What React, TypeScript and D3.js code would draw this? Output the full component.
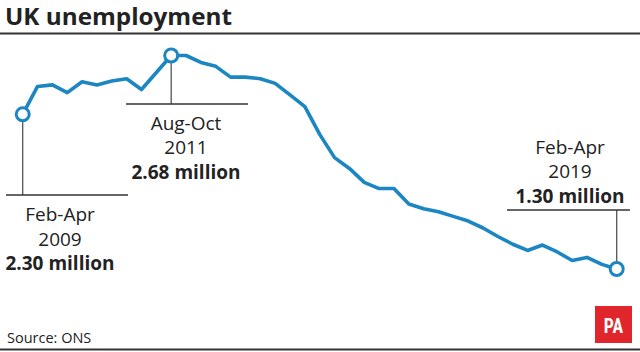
import React from "react";
import * as d3 from "d3";

const periods = [
  "Feb-Apr 2009", "May-Jul 2009", "Aug-Oct 2009", "Nov-Jan 2010",
  "Feb-Apr 2010", "May-Jul 2010", "Aug-Oct 2010", "Nov-Jan 2011",
  "Feb-Apr 2011", "May-Jul 2011", "Aug-Oct 2011", "Nov-Jan 2012",
  "Feb-Apr 2012", "May-Jul 2012", "Aug-Oct 2012", "Nov-Jan 2013",
  "Feb-Apr 2013", "May-Jul 2013", "Aug-Oct 2013", "Nov-Jan 2014",
  "Feb-Apr 2014", "May-Jul 2014", "Aug-Oct 2014", "Nov-Jan 2015",
  "Feb-Apr 2015", "May-Jul 2015", "Aug-Oct 2015", "Nov-Jan 2016",
  "Feb-Apr 2016", "May-Jul 2016", "Aug-Oct 2016", "Nov-Jan 2017",
  "Feb-Apr 2017", "May-Jul 2017", "Aug-Oct 2017", "Nov-Jan 2018",
  "Feb-Apr 2018", "May-Jul 2018", "Aug-Oct 2018", "Nov-Jan 2019",
  "Feb-Apr 2019",
];

// millions unemployed
const unemployed = [
  2.30, 2.48, 2.49, 2.44, 2.51, 2.49, 2.515, 2.53, 2.46, 2.57,
  2.68, 2.68, 2.635, 2.61, 2.54, 2.54, 2.53, 2.50, 2.425, 2.35,
  2.17, 2.02, 1.95, 1.86, 1.82, 1.82, 1.72, 1.69, 1.67, 1.64,
  1.61, 1.565, 1.51, 1.46, 1.42, 1.455, 1.41, 1.355, 1.375, 1.33,
  1.30,
];

const highlights = [
  { period: "Feb-Apr 2009", line1: "Feb-Apr", line2: "2009", value: "2.30 million" },
  { period: "Aug-Oct 2011", line1: "Aug-Oct", line2: "2011", value: "2.68 million" },
  { period: "Feb-Apr 2019", line1: "Feb-Apr", line2: "2019", value: "1.30 million" },
];

const W = 640;
const H = 352;
const FONT = "'Open Sans', 'Noto Sans', sans-serif";
const BLUE = "#1b86c2";
const INK = "#222";

const labelLayout = [
  { ruleY: 195, x1: 6, x2: 128, tx: 60, b1: 221 },
  { ruleY: 104, x1: 126, x2: 248, tx: 186, b1: 129.5 },
  { ruleY: 210, x1: 507, x2: 630, tx: 570, b1: 153.5 },
];

export default function App() {
  const x = d3.scalePoint<string>().domain(periods).range([22.7, 616.7]);
  const y = d3.scaleLinear().domain([1.3, 2.68]).range([269, 55.5]);
  const data = periods.map((p, i) => ({ p, v: unemployed[i] }));
  const line = d3
    .line<{ p: string; v: number }>()
    .x((d) => x(d.p) as number)
    .y((d) => y(d.v));

  const r = 6.5;

  return (
    <svg
      width={W}
      height={H}
      viewBox={`0 0 ${W} ${H}`}
      style={{ position: "absolute", left: 0, top: 0, background: "#fff" }}
      fontFamily={FONT}
    >
      <rect x={0} y={0} width={W} height={H} fill="#fff" />
      <text
        x={5}
        y={25.2}
        fontSize={23.5}
        fontWeight={700}
        fill={INK}
        textLength={227}
        lengthAdjust="spacingAndGlyphs"
      >
        UK unemployment
      </text>
      <line x1={0} x2={W} y1={33.5} y2={33.5} stroke="#333" strokeWidth={2} />

      {highlights.map((h, i) => {
        const L = labelLayout[i];
        const idx = periods.indexOf(h.period);
        const cx = x(h.period) as number;
        const cy = y(unemployed[idx]);
        const below = L.ruleY > cy;
        return (
          <g key={h.period}>
            <line
              x1={cx}
              x2={cx}
              y1={below ? cy + r : L.ruleY}
              y2={below ? L.ruleY : cy - r}
              stroke="#555"
              strokeWidth={1.3}
            />
            <line x1={L.x1} x2={L.x2} y1={L.ruleY} y2={L.ruleY} stroke="#333" strokeWidth={1.5} />
            <text x={L.tx} y={L.b1} textAnchor="middle" fontSize={19} fill={INK}>
              {h.line1}
            </text>
            <text x={L.tx} y={L.b1 + 24.5} textAnchor="middle" fontSize={19} fill={INK}>
              {h.line2}
            </text>
            <text x={L.tx} y={L.b1 + 49} textAnchor="middle" fontSize={19} fontWeight={700} fill={INK}>
              {h.value}
            </text>
          </g>
        );
      })}

      <path d={line(data) || ""} fill="none" stroke={BLUE} strokeWidth={3.6} strokeLinejoin="round" strokeLinecap="round" />

      {highlights.map((h) => {
        const idx = periods.indexOf(h.period);
        return (
          <circle
            key={"c" + h.period}
            cx={x(h.period) as number}
            cy={y(unemployed[idx])}
            r={r}
            fill="#fff"
            stroke={BLUE}
            strokeWidth={3}
          />
        );
      })}

      <text x={7} y={343} fontSize={14.5} fill={INK}>
        Source: ONS
      </text>
      <rect x={595} y={306} width={37} height={37} fill="#e1262b" />
      <text
        x={613.5}
        y={333}
        textAnchor="middle"
        fontSize={21}
        fontWeight={700}
        fill="#fff"
        fontFamily="'Roboto Condensed', 'Liberation Sans Narrow', 'DejaVu Sans Condensed', sans-serif"
        transform="translate(613.5 0) scale(0.85 1) translate(-613.5 0)"
      >
        PA
      </text>
      <line x1={0} x2={W} y1={349.5} y2={349.5} stroke="#333" strokeWidth={2} />
    </svg>
  );
}
